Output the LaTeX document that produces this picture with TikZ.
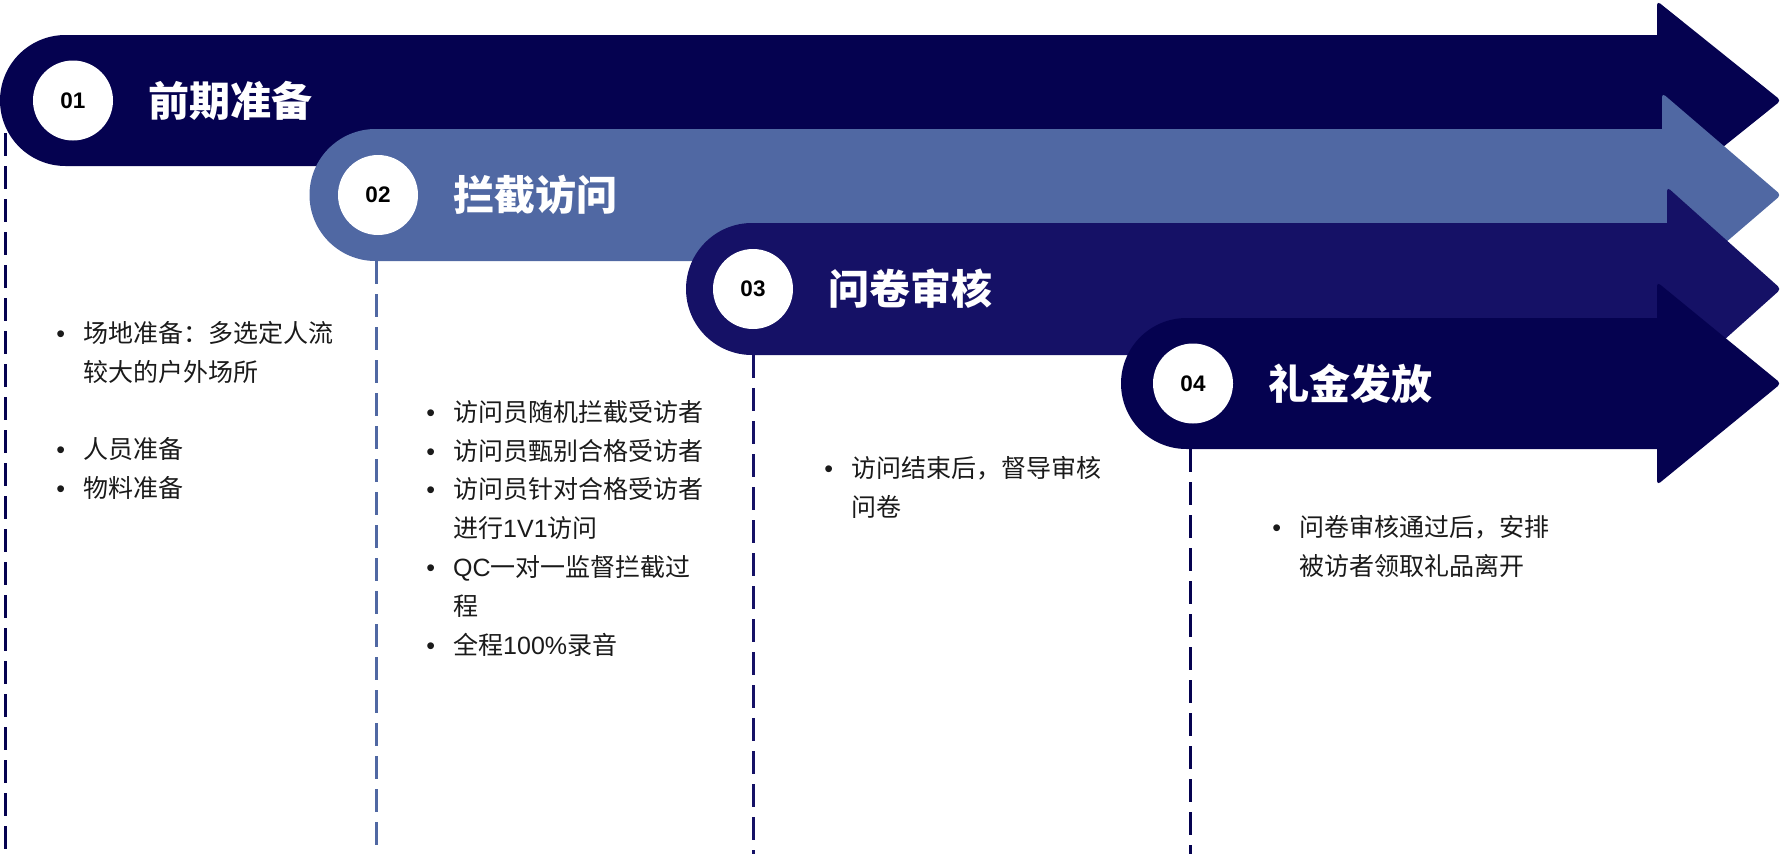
\documentclass[tikz,border=0pt]{standalone}
\usepackage{fontspec}
\setmainfont{Liberation Sans}
\newfontfamily\cjk{Noto Sans CJK SC}
\newfontfamily\lat{Liberation Sans}
\usetikzlibrary{positioning}

\definecolor{navy}{HTML}{050250}
\definecolor{steel}{HTML}{5068A3}
\definecolor{indigo}{HTML}{151166}
\definecolor{textgray}{HTML}{1A1A1A}

\newcommand{\itm}{\llap{{\lat •}\hspace{18pt}}}

\tikzset{
  numcircle/.style={circle, fill=white, minimum size=80pt, inner sep=0pt,
    text=black, font=\lat\bfseries\fontsize{22.5}{22.5}\selectfont},
  stagetitle/.style={inner sep=0pt, text=white,
    font=\cjk\bfseries\fontsize{41}{41}\selectfont},
  stageline/.style={draw=#1, line width=3pt, dash pattern=on 23pt off 10pt},
  itemtext/.style={anchor=north west, inner sep=0pt, align=left, text=textgray,
    font=\cjk\fontsize{25}{38.8}\selectfont},
}

\begin{document}
\begin{tikzpicture}[x=1pt,y=-1pt]

  \useasboundingbox (0,0) rectangle (1781,854);

  % Draw dashed guide lines
  \coordinate (L1a) at (5,100);
  \coordinate (L1b) at (5,854);
  \draw [stageline=navy] (L1a) -- (L1b);
  \coordinate (L2a) at (376,195);
  \coordinate (L2b) at (376,854);
  \draw [stageline=steel] (L2a) -- (L2b);
  \coordinate (L3a) at (753,289);
  \coordinate (L3b) at (753,854);
  \draw [stageline=indigo] (L3a) -- (L3b);
  \coordinate (L4a) at (1190,383);
  \coordinate (L4b) at (1190,854);
  \draw [stageline=navy] (L4a) -- (L4b);

  % Draw arrow 1
  \fill [navy] (65.5,35) -- (1660,35) -- (1660,166) -- (65.5,166)
    arc [start angle=90, end angle=270, radius=65.5] -- cycle;
  \fill [navy, rounded corners=4pt] (1657,1) -- (1781,100.5) -- (1657,200) -- cycle;
  \node [numcircle] (N1) at (73,100.5) {01};
  \node [stagetitle, right=35pt of N1] (T1) {前期准备};

  % Draw arrow 2
  \fill [steel] (375.5,129) -- (1665,129) -- (1665,261) -- (375.5,261)
    arc [start angle=90, end angle=270, radius=66] -- cycle;
  \fill [steel, rounded corners=4pt] (1662,93) -- (1781,195) -- (1662,297) -- cycle;
  \node [numcircle] (N2) at (378,195) {02};
  \node [stagetitle, right=35pt of N2] (T2) {拦截访问};

  % Draw arrow 3
  \fill [indigo] (752,223) -- (1670,223) -- (1670,355) -- (752,355)
    arc [start angle=90, end angle=270, radius=66] -- cycle;
  \fill [indigo, rounded corners=4pt] (1667,187) -- (1781,289) -- (1667,391) -- cycle;
  \node [numcircle] (N3) at (753,289) {03};
  \node [stagetitle, right=35pt of N3] (T3) {问卷审核};

  % Draw arrow 4
  \fill [navy] (1186.5,318) -- (1660,318) -- (1660,449) -- (1186.5,449)
    arc [start angle=90, end angle=270, radius=65.5] -- cycle;
  \fill [navy, rounded corners=4pt] (1657,282) -- (1781,383.5) -- (1657,485) -- cycle;
  \node [numcircle] (N4) at (1193,383.5) {04};
  \node [stagetitle, right=35pt of N4] (T4) {礼金发放};

  % Draw item lists
  \node [itemtext] (I1) at (83,321) {\itm 场地准备：多选定人流\\较大的户外场所\\[38.8pt]
    \itm 人员准备\\\itm 物料准备};
  \node [itemtext] (I2) at (453,400) {\itm 访问员随机拦截受访者\\\itm 访问员甄别合格受访者\\
    \itm 访问员针对合格受访者\\进行{\lat 1V1}访问\\\itm {\lat QC}一对一监督拦截过\\程\\
    \itm 全程{\lat 100\%}录音};
  \node [itemtext] (I3) at (851,456) {\itm 访问结束后，督导审核\\问卷};
  \node [itemtext] (I4) at (1299,515) {\itm 问卷审核通过后，安排\\被访者领取礼品离开};

\end{tikzpicture}
\end{document}
